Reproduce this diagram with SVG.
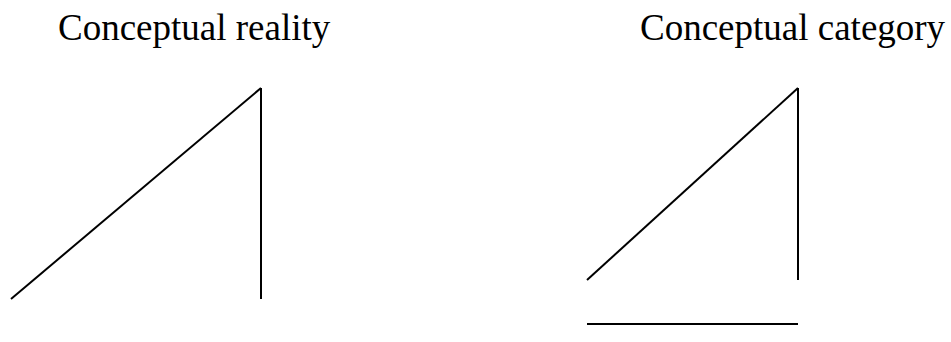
<svg xmlns="http://www.w3.org/2000/svg" width="951" height="342" viewBox="0 0 951 342">
<style>
.t{font-family:"Liberation Serif","Times New Roman",serif;font-size:37px;fill:#000}
.l{stroke:#000;stroke-width:2;fill:none;stroke-linecap:butt}
</style>
<rect width="951" height="342" fill="#fff"/>
<g id="reality">
<text class="t" x="58" y="40">Conceptual reality</text>
</g>
<g id="category">
<text class="t" x="640" y="40">Conceptual category</text>
</g>
<g id="connectors">
<line class="l" x1="11" y1="299" x2="261" y2="88"/>
<line class="l" x1="261" y1="88" x2="261" y2="299"/>
<line class="l" x1="587" y1="280" x2="798" y2="88"/>
<line class="l" x1="798" y1="88" x2="798" y2="280"/>
<line class="l" x1="587" y1="324" x2="798" y2="324"/>
</g>
</svg>
